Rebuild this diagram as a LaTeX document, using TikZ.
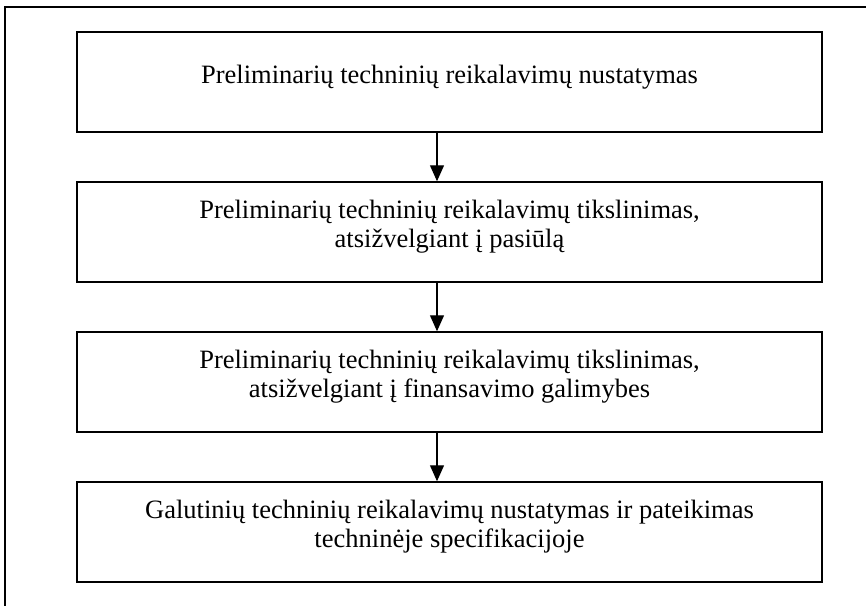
\documentclass[tikz,border=0pt]{standalone}
\usepackage{fontspec}
\setmainfont{Liberation Serif}
\usetikzlibrary{arrows.meta}
\begin{document}
\begin{tikzpicture}[x=1pt,y=-1pt,
  stagebox/.style={draw, line width=1.5pt, minimum width=745pt, minimum height=100pt, inner sep=0pt},
  stagetext/.style={align=center, font=\fontsize{26.5pt}{29pt}\selectfont, inner sep=0pt},
  flow/.style={line width=1.3pt, -{Triangle[length=16pt,width=14pt]}}]
  \useasboundingbox (0,0) rectangle (866,605);
  % open frame around the scheme
  \draw[line width=1.5pt] (5,610) -- (5,7) -- (872,7);
  % stage boxes
  \node[stagebox] (b1) at (449.5,82) {};
  \node[stagebox] (b2) at (449.5,232) {};
  \node[stagebox] (b3) at (449.5,382) {};
  \node[stagebox] (b4) at (449.5,532) {};
  % stage texts
  \node[stagetext] (t1) at ([yshift=5pt]b1.center) {Preliminarių techninių reikalavimų nustatymas};
  \node[stagetext] (t2) at ([yshift=5pt]b2.center) {Preliminarių techninių reikalavimų tikslinimas,\\ atsižvelgiant į pasiūlą};
  \node[stagetext] (t3) at ([yshift=5pt]b3.center) {Preliminarių techninių reikalavimų tikslinimas,\\ atsižvelgiant į finansavimo galimybes};
  \node[stagetext] (t4) at ([yshift=5pt]b4.center) {Galutinių techninių reikalavimų nustatymas ir pateikimas\\ techninėje specifikacijoje};
  % arrow axis
  \coordinate (ax) at (437,0);
  \draw[flow] (b1.south -| ax) -- (b2.north -| ax);
  \draw[flow] (b2.south -| ax) -- (b3.north -| ax);
  \draw[flow] (b3.south -| ax) -- (b4.north -| ax);
\end{tikzpicture}
\end{document}
